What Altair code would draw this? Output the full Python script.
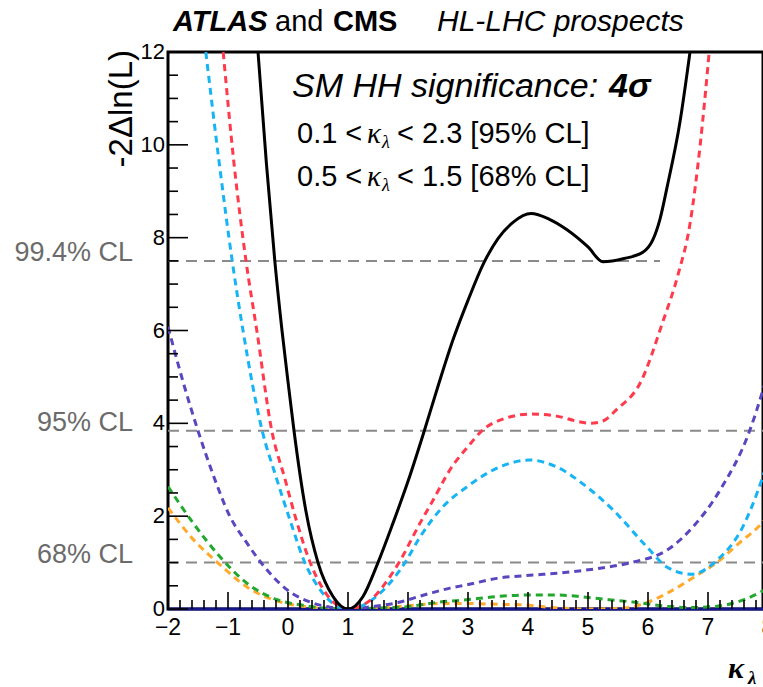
import altair as alt
import pandas as pd

# -2 Delta ln(L) scans versus kappa_lambda, one list pair per curve
black_x = [-0.5, -0.36, -0.22, -0.1, 0.0, 0.1, 0.3, 0.5, 0.75, 1.0, 1.25, 1.5, 1.75, 2.0, 2.25,
           2.5, 2.75, 3.0, 3.25, 3.5, 3.75, 4.05, 4.35, 4.65, 5.0, 5.25, 5.6, 5.92, 6.08,
           6.2, 6.32, 6.53, 6.7]
black_y = [12.0, 9.6, 7.5, 6.0, 4.9, 3.84, 2.1, 1.0, 0.27, 0.0, 0.27, 1.0, 1.85, 2.75, 3.75,
           4.8, 5.8, 6.65, 7.42, 7.98, 8.33, 8.52, 8.4, 8.17, 7.8, 7.48, 7.55, 7.69, 7.95,
           8.4, 9.1, 10.47, 12.0]

red_x = [-1.08, -0.9, -0.7, -0.52, -0.27, -0.05, 0.13, 0.37, 0.6, 0.8, 1.0, 1.2, 1.4, 1.62,
         1.85, 2.2, 2.42, 2.7, 3.0, 3.25, 3.6, 4.05, 4.5, 4.8, 5.05, 5.25, 5.48, 5.87, 6.25,
         6.5, 6.7, 6.87, 7.02]
red_y = [12.0, 9.6, 7.5, 6.0, 3.84, 2.8, 1.95, 1.0, 0.4, 0.1, 0.0, 0.06, 0.22, 0.55,
         1.0, 1.85, 2.35, 3.0, 3.5, 3.86, 4.1, 4.2, 4.15, 4.05, 4.0, 4.05, 4.3, 4.87, 6.2,
         7.2, 8.3, 10.0, 12.0]

blue_x = [-1.37, -1.15, -0.93, -0.75, -0.43, -0.2, 0.05, 0.28, 0.5, 0.75, 1.0, 1.25, 1.5,
          1.75, 1.95, 2.2, 2.58, 2.98, 3.53, 4.03, 4.48, 4.98, 5.42, 5.98, 6.32, 6.72, 7.15,
          7.58, 7.9, 8.0]
blue_y = [12.0, 9.65, 7.5, 6.0, 3.84, 2.85, 1.85, 1.0, 0.48, 0.12, 0.0, 0.08, 0.3,
          0.64, 1.0, 1.55, 2.2, 2.63, 3.06, 3.21, 3.06, 2.63, 2.13, 1.34, 0.9, 0.75, 1.05,
          1.77, 2.8, 3.2]

purple_x = [-2.0, -1.75, -1.5, -1.25, -0.97, -0.7, -0.45, 0.0, 0.37, 0.7, 1.0, 1.4, 1.87,
            2.08, 2.4, 2.7, 2.98, 3.48, 4.08, 4.48, 5.2, 5.75, 6.32, 6.75, 7.2, 7.7, 7.9, 8.0]
purple_y = [6.08, 4.9, 3.84, 2.9, 2.0, 1.45, 1.0, 0.4, 0.15, 0.04, 0.0, 0.05, 0.15,
            0.23, 0.35, 0.45, 0.52, 0.66, 0.73, 0.77, 0.88, 1.01, 1.27, 1.77, 2.56, 3.86, 4.65, 5.1]

green_x = [-2.0, -1.58, -1.13, -0.68, -0.18, 0.25, 0.6, 1.0, 1.5, 1.98, 2.53, 2.98, 3.5,
           3.98, 4.5, 4.92, 5.35, 5.75, 6.32, 6.7, 7.15, 7.6, 7.9, 8.0]
green_y = [2.64, 1.85, 1.12, 0.55, 0.2, 0.08, 0.02, 0.0, 0.02, 0.05, 0.15, 0.2, 0.27,
           0.3, 0.3, 0.26, 0.2, 0.15, 0.06, 0.03, 0.06, 0.2, 0.38, 0.45]

orange_x = [-2.0, -1.58, -1.13, -0.68, -0.18, 0.25, 0.6, 1.0, 1.5, 2.0, 2.53, 3.0, 3.5, 3.92,
            4.4, 5.0, 5.5, 5.75, 6.0, 6.32, 6.6, 6.87, 7.15, 7.5, 7.9, 8.0]
orange_y = [2.18, 1.5, 0.95, 0.47, 0.17, 0.06, 0.015, 0.0, 0.02, 0.07, 0.12, 0.12, 0.1, 0.09,
            0.03, 0.0, 0.01, 0.05, 0.15, 0.34, 0.55, 0.77, 1.0, 1.4, 1.85, 2.0]

navy_x = [-2.0, 8.0]
navy_y = [0.0, 0.0]

# confidence-level reference lines
cl_names = ["99.4% CL", "95% CL", "68% CL"]
cl_levels = [7.5, 3.84, 1.0]
cl_x_end = [6.2, 8.0, 8.0]

# tick positions and labels
x_tick_vals = [-2, -1, 0, 1, 2, 3, 4, 5, 6, 7, 8]
x_tick_text = ["\u22122", "\u22121", "0", "1", "2", "3", "4", "5", "6", "7", "8"]
x_minor_vals = [round(-2 + 0.2 * i, 2) for i in range(51) if i % 5 != 0]
y_tick_vals = [0, 2, 4, 6, 8, 10, 12]
y_minor_vals = [v / 2 for v in range(25) if v % 4 != 0]

SANS = "Liberation Sans"
SERIF = "Liberation Serif"
W, H = 595, 557
xs = alt.Scale(domain=[-2.0, -2.0 + 10.0 * W / 600.0], nice=False, zero=False)
ys = alt.Scale(domain=[0, 12], nice=False, zero=False)


def curve(xv, yv, color, width=3, dash=None, clip=True):
    df = pd.DataFrame({"k": xv, "nll": yv})
    kw = dict(color=color, strokeWidth=width, interpolate="monotone", clip=clip)
    if dash:
        kw["strokeDash"] = dash
    return alt.Chart(df).mark_line(**kw).encode(
        x=alt.X("k:Q", scale=xs, axis=None),
        y=alt.Y("nll:Q", scale=ys, axis=None),
    )


def label(text, x, y, size, style="normal", weight="normal", font=SANS, align="left",
          baseline="alphabetic", color="black", angle=0):
    return alt.Chart(pd.DataFrame({"t": [text]})).mark_text(
        align=align, baseline=baseline, font=font, fontSize=size, fontStyle=style,
        fontWeight=weight, color=color, angle=angle,
    ).encode(x=alt.value(x), y=alt.value(y), text="t:N")


def xticks(vals, length):
    return alt.Chart(pd.DataFrame({"v": vals})).mark_rule(
        color="black", strokeWidth=1.6, clip=True
    ).encode(x=alt.X("v:Q", scale=xs, axis=None), y=alt.value(H), y2=alt.value(H - length))


def yticks(vals, length):
    return alt.Chart(pd.DataFrame({"v": vals})).mark_rule(
        color="black", strokeWidth=1.6
    ).encode(y=alt.Y("v:Q", scale=ys, axis=None), x=alt.value(0), x2=alt.value(length))


cl_df = pd.DataFrame({"name": cl_names, "lvl": cl_levels,
                      "x0": [-2.0] * 3, "x1": cl_x_end})
cl_lines = alt.Chart(cl_df).mark_rule(
    color="#8a8a8a", strokeWidth=2, strokeDash=[11, 7], clip=True
).encode(
    x=alt.X("x0:Q", scale=xs, axis=None), x2="x1:Q",
    y=alt.Y("lvl:Q", scale=ys, axis=None),
)
cl_text = alt.Chart(cl_df).mark_text(
    align="right", baseline="alphabetic", font=SANS, fontSize=27, color="#6b6b6b"
).encode(x=alt.value(-35), y=alt.Y("lvl:Q", scale=ys, axis=None), text="name:N")

xlab_df = pd.DataFrame({"v": x_tick_vals, "t": x_tick_text})
x_labels = alt.Chart(xlab_df).mark_text(
    align="center", baseline="alphabetic", font=SANS, fontSize=23, color="black"
).encode(x=alt.X("v:Q", scale=xs, axis=None), y=alt.value(H + 26), text="t:N")

ylab_df = pd.DataFrame({"v": y_tick_vals, "t": [str(v) for v in y_tick_vals]})
y_labels = alt.Chart(ylab_df).mark_text(
    align="right", baseline="middle", font=SANS, fontSize=22, color="black"
).encode(x=alt.value(-3), y=alt.Y("v:Q", scale=ys, axis=None), text="t:N")

layers = [
    cl_lines,
    curve(navy_x, navy_y, "#14148c", width=3, clip=False),
    curve(orange_x, orange_y, "#ffaa2b", dash=[7, 5]),
    curve(green_x, green_y, "#22a82c", dash=[7, 5]),
    curve(purple_x, purple_y, "#5a46bf", dash=[7, 5]),
    curve(blue_x, blue_y, "#17b4f5", dash=[7, 5]),
    curve(red_x, red_y, "#ff3a4c", dash=[7, 5]),
    curve(black_x, black_y, "black", width=3),
    xticks(x_tick_vals, 17),
    xticks(x_minor_vals, 9),
    yticks(y_tick_vals, 20),
    yticks(y_minor_vals, 10),
    x_labels,
    y_labels,
    cl_text,
    # header
    label("ATLAS", 5, -21, 29, style="italic", weight="bold"),
    label("and", 107, -21, 29),
    label("CMS", 165, -21, 29, weight="bold"),
    label("HL-LHC prospects", 269, -21, 30, style="italic"),
    # in-plot annotations
    label("SM HH significance:", 124, 45, 34, style="italic"),
    label("4\u03c3", 441, 45, 34, style="italic", weight="bold"),
    label("0.1 <", 129, 91, 29),
    label("\u03ba", 199, 91, 29, style="italic", font=SERIF),
    label("\u03bb", 214, 96, 18, style="italic", font=SERIF),
    label("< 2.3 [95% CL]", 229, 91, 29),
    label("0.5 <", 129, 134, 29),
    label("\u03ba", 199, 134, 29, style="italic", font=SERIF),
    label("\u03bb", 214, 139, 18, style="italic", font=SERIF),
    label("< 1.5 [68% CL]", 229, 134, 29),
    # axis titles
    label("-2\u0394ln(L)", -36, -2, 33, align="right", angle=270),
    label("\u03ba", 560, 626, 30, style="italic", weight="bold", font=SERIF),
    label("\u03bb", 580, 632, 19, style="italic", weight="bold", font=SERIF),
]

chart = alt.layer(*layers).properties(
    width=W, height=H,
    autosize=alt.AutoSizeParams(type="none"),
    padding={"left": 168, "top": 52, "right": 0, "bottom": 78},
    background="white",
).configure_view(stroke="black", strokeWidth=3)

chart.save("out.html", embed_options={"renderer": "svg", "actions": False})
